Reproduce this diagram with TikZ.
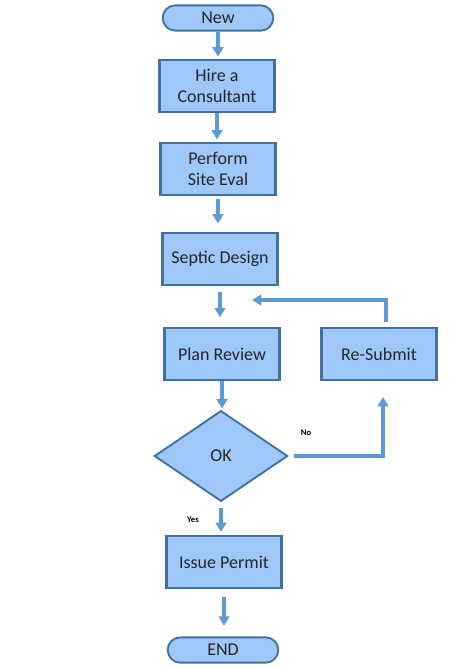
\documentclass[tikz,border=0pt]{standalone}
\usepackage{fontspec}
\setmainfont{Carlito}
\usetikzlibrary{arrows, arrows.meta, shapes.geometric}

\definecolor{boxfill}{RGB}{157,200,248}
\definecolor{boxline}{RGB}{65,113,156}
\definecolor{arrline}{RGB}{91,155,213}

\tikzset{
    procbox/.style={draw=boxline, line width=2.2pt, fill=boxfill, minimum width=86pt, minimum height=39pt, align=center, font=\fontsize{13.5}{16}\selectfont, text=black!85},
    termbox/.style={draw=boxline, line width=1.4pt, fill=boxfill, minimum width=83pt, minimum height=19pt, rounded corners=9.5pt, font=\fontsize{13.5}{16}\selectfont, text=black!85},
    decbox/.style={diamond, draw=boxline, line width=1.4pt, fill=boxfill, minimum width=100pt, minimum height=68pt, inner sep=0pt, font=\fontsize{13.5}{16}\selectfont, text=black!85},
    arr/.style={draw=arrline, line width=2.3pt, -{Triangle[length=7pt, width=8pt]}},
    smalllab/.style={font=\bfseries\fontsize{6.5}{8}\selectfont}
}

\begin{document}
\begin{tikzpicture}[x=0.75pt, y=-0.75pt]
    \useasboundingbox (0,0) rectangle (450,668);
    % boxes
    \node[termbox] (new) at (218,18) {New};
    \node[procbox] (hire) at (217,86) {Hire a\\Consultant};
    \node[procbox] (perform) at (218,169) {Perform\\Site Eval};
    \node[procbox] (septic) at (220,259) {Septic Design};
    \node[procbox] (review) at (222,354) {Plan Review};
    \node[procbox] (resubmit) at (379,354) {Re-Submit};
    \node[decbox] (ok) at (221,456) {OK};
    \node[procbox] (permit) at (224,562) {Issue Permit};
    \node[termbox] (end) at (223,650) {END};
    % loop ends
    \coordinate (loopstart) at (386,322);
    \coordinate (loopend) at (252,300);
    \coordinate (noend) at (383,397);
    % arrows
    \draw[arr, shorten >=1.5pt] (new.south) -- (new.south |- hire.north);
    \draw[arr, shorten >=1.5pt] (hire.south) -- (hire.south |- perform.north);
    \draw[arr, shorten <=2pt, shorten >=6pt] (perform.south) -- (perform.south |- septic.north);
    \draw[arr, shorten <=4pt, shorten >=7pt] (septic.south) -- (septic.south |- review.north);
    \draw[arr, shorten >=1pt] (review.south) -- (review.south |- ok.north);
    \draw[arr, shorten <=4pt, shorten >=2pt] (ok.south) -- (ok.south |- permit.north);
    \draw[arr, shorten <=6pt, shorten >=8pt] (permit.south) -- (permit.south |- end.north);
    \draw[arr] (loopstart) |- (loopend);
    \draw[arr, shorten <=4pt] (ok.east) -| (noend);
    % labels
    \node[smalllab] (nolab) at (306,433) {No};
    \node[smalllab] (yeslab) at (193,520) {Yes};
\end{tikzpicture}
\end{document}
